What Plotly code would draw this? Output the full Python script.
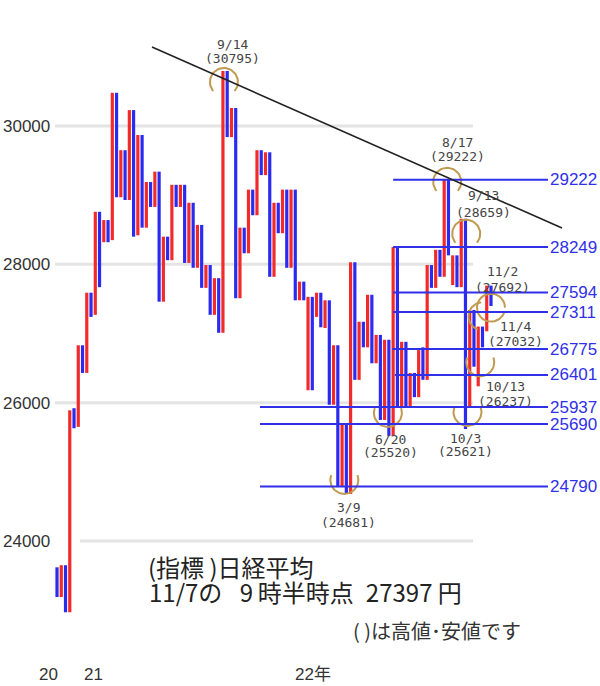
import plotly.graph_objects as go
import math

# ---------------- data ----------------
# each bar: top price, bottom price, direction (U = up/red, D = down/blue)
bar_top = [
    23620, 23650, 23650, 25890, 25920, 26830, 26830, 27590, 27590, 28760,
    28760, 28640, 28640, 30480, 30480, 29650, 29650, 30230, 30230, 29870,
    29870, 29190, 29190, 29340, 29340, 28400, 28400, 29150, 29150, 29150,
    29150, 28890, 28890, 28570, 28570, 27990, 27990, 27800, 27800, 30795,
    30795, 30260, 30260, 28530, 28530, 29080, 29080, 29650, 29650, 29620,
    29620, 28890, 28890, 29080, 29080, 29080, 29080, 27750, 27750, 27530,
    27530, 27590, 27590, 27480, 27480, 26830, 26830, 25680, 25680, 28030,
    28030, 27170, 27170, 27560, 27560, 26980, 26980, 26910, 26910, 28250,
    28250, 26880, 26880, 26430, 26430, 26760, 26800, 27990, 27990, 28210,
    28210, 29222, 29222, 28130, 28130, 28659, 28659, 27340, 27340, 27100,
    27100, 27692, 27692,
]
bar_bottom = [
    23190, 23190, 22970, 22970, 25630, 25650, 26430, 26430, 27240, 27270,
    27670, 28320, 28320, 28350, 28970, 28970, 28930, 28930, 28400, 28420,
    28530, 28530, 28830, 28830, 27460, 27460, 28060, 28060, 28830, 28830,
    28020, 28020, 27950, 27950, 27660, 27660, 27270, 27270, 27010, 27010,
    29840, 29840, 27510, 27510, 28160, 28160, 28710, 28710, 29290, 29290,
    27820, 27820, 28450, 28450, 27950, 27950, 27480, 27480, 27480, 26180,
    26180, 27240, 27090, 27080, 25970, 25970, 24780, 24780, 24681, 24681,
    26330, 26330, 26800, 26800, 26570, 26570, 25750, 25750, 25520, 25520,
    25940, 25940, 25940, 25940, 26080, 26080, 26330, 26330, 27660, 27660,
    27820, 27820, 28130, 27700, 27670, 27670, 25621, 25940, 26520, 26237,
    26800, 27032, 27397,
]
bar_dir = list(
    "DUDUDUDUDU" "DUDUDUDUDU" "DUDUDUDUDU" "DUDUDUDUDU" "DUDUDUDUDU"
    "DUDUDUDUDU" "DUDUDUDUDU" "DUDUDUDUDU" "DUDUDUDUDU" "DUDUDUDUDU" "DUD"
)

# horizontal support / resistance levels and the bar index they start at
level_values = [29222, 28249, 27594, 27311, 26775, 26401, 25937, 25690, 24790]
level_start = [79.0, 79.0, 79.0, 79.0, 78.8, 79.4, 47.7, 47.7, 47.7]

# marked highs / lows: date, price, bar index, kind
ext_dates = ["9/14", "8/17", "9/13", "11/2", "11/4", "10/13", "10/3", "6/20", "3/9"]
ext_values = [30795, 29222, 28659, 27692, 27032, 26237, 25621, 25520, 24681]
ext_index = [39, 91, 95, 102, 100, 99, 96, 78, 68]
ext_kind = ["high", "high", "high", "circle", "left", "low", "low", "low", "low"]

y_ticks = [24000, 26000, 28000, 30000]
y_tick_text = ["24000", "26000", "28000", "30000"]
x_label_pos = [-2.1, 8.5, 60.2]
x_label_text = ["20", "21", "22年"]

# ---------------- geometry helpers ----------------
W, H, MB = 600, 686, 24
PH = H - MB
PX_PER_X = 4.2549
X0 = -57 / PX_PER_X
X1 = X0 + W / PX_PER_X
V_TOP, V_BOT = 31821.6, 22251.0
PX_PER_V = PH / (V_TOP - V_BOT)


def px_x(p):
    return p / PX_PER_X + X0


def py_v(p):
    return V_TOP - p / PX_PER_V


def x_px(x):
    return (x - X0) * PX_PER_X


def v_py(v):
    return (V_TOP - v) * PX_PER_V


RED = "#f22a2a"
BLUE = "#2a2af0"
LEVEL_BLUE = "#3030e8"
ARC = "#c09a50"

fig = go.Figure()

# gridlines (light)
for v in y_ticks:
    fig.add_shape(type="line", xref="x", yref="y",
                  x0=px_x(80 if v == 24000 else 55), x1=px_x(473), y0=v, y1=v,
                  line=dict(color="#e4e4e4", width=3), layer="below")

# bars
idx = list(range(len(bar_top)))
fig.add_trace(go.Bar(
    x=idx,
    y=[t - b for t, b in zip(bar_top, bar_bottom)],
    base=bar_bottom,
    width=0.75,
    marker=dict(color=[RED if d == "U" else BLUE for d in bar_dir], line=dict(width=0)),
    hoverinfo="skip",
))

# level lines + labels
for v, s in zip(level_values, level_start):
    fig.add_shape(type="line", xref="x", yref="y", x0=s, x1=px_x(548), y0=v, y1=v,
                  line=dict(color=LEVEL_BLUE, width=2))
    fig.add_annotation(x=px_x(548), y=v, xref="x", yref="y", text=str(v),
                       showarrow=False, xanchor="left", yanchor="middle",
                       font=dict(family="Liberation Sans, Arial", size=17, color=LEVEL_BLUE))

# trend line
fig.add_shape(type="line", xref="x", yref="y",
              x0=px_x(152), y0=py_v(47), x1=px_x(562), y1=py_v(228),
              line=dict(color="#222222", width=1.6))

# arcs around marked highs / lows: (pixel offset dx, dy, start angle, end angle)
arc_style = {
    "9/14": (1, 11, -40, 220),
    "8/17": (3, 2, -40, 220),
    "9/13": (5, 15, -40, 220),
    "11/2": (0, 22, 0, 345),
    "11/4": (0, -15, 95, 250),
    "10/13": (2, -24, 160, 380),
    "10/3": (2, -17, 160, 380),
    "6/20": (-1, -23, 160, 380),
    "3/9": (-2, -14, 160, 380),
}
for d, v, i in zip(ext_dates, ext_values, ext_index):
    dx, dy, a0, a1 = arc_style[d]
    cx = x_px(i) + dx
    cy = v_py(v) + dy
    xs, ys = [], []
    n = 40
    for j in range(n + 1):
        a = math.radians(a0 + (a1 - a0) * j / n)
        xs.append(px_x(cx + 14 * math.cos(a)))
        ys.append(py_v(cy - 14 * math.sin(a)))
    fig.add_trace(go.Scatter(x=xs, y=ys, mode="lines",
                             line=dict(color=ARC, width=2), hoverinfo="skip"))

# date / price labels (pixel centres of the two lines)
label_pos = {
    "9/14": (232, 44, 59),
    "8/17": (457, 142, 157),
    "9/13": (483, 196, 212),
    "11/2": (502, 271, 287),
    "11/4": (515, 326, 341),
    "10/13": (505, 386, 401),
    "10/3": (465, 438, 451),
    "6/20": (391, 439, 452),
    "3/9": (348, 507, 522),
}
for d, v in zip(ext_dates, ext_values):
    cx, y1, y2 = label_pos[d]
    for txt, yy in ((d, y1), (f"({v})", y2)):
        fig.add_annotation(x=cx / W, y=1 - yy / PH, xref="paper", yref="paper",
                           text=txt, showarrow=False, xanchor="center", yanchor="middle",
                           font=dict(family="DejaVu Sans Mono", size=13, color="#444"))

# year labels under the bars
for xp, t in zip(x_label_pos, x_label_text):
    fig.add_annotation(x=xp, y=1 - 675 / PH, xref="x", yref="paper", text=t,
                       showarrow=False, xanchor="center", yanchor="middle",
                       font=dict(family="Liberation Sans, Noto Sans CJK JP", size=17,
                                 color="#333"))

# captions
cap_font = "Noto Sans CJK JP"
fig.add_annotation(x=146 / W, y=1 - 566 / PH, xref="paper", yref="paper",
                   text="(指標 )日経平均", showarrow=False, xanchor="left", yanchor="middle",
                   font=dict(family=cap_font, size=24, color="#222"))
fig.add_annotation(x=147 / W, y=1 - 591 / PH, xref="paper", yref="paper",
                   text="11/7の\u2002 9\u2009時半時点\u200227397 円", showarrow=False,
                   xanchor="left", yanchor="middle",
                   font=dict(family=cap_font, size=24, color="#222"))
fig.add_annotation(x=351 / W, y=1 - 630 / PH, xref="paper", yref="paper",
                   text="( )は高値･安値です", showarrow=False, xanchor="left",
                   yanchor="middle", font=dict(family=cap_font, size=20, color="#333"))

fig.update_layout(
    width=W, height=H,
    margin=dict(l=0, r=0, t=0, b=MB),
    paper_bgcolor="white", plot_bgcolor="white",
    showlegend=False,
    barmode="overlay",
    xaxis=dict(range=[X0, X1], showgrid=False, zeroline=False, showline=False,
               showticklabels=False, ticks=""),
    yaxis=dict(range=[V_BOT, V_TOP], showgrid=False, zeroline=False, showline=False,
               tickmode="array", tickvals=y_ticks, ticktext=y_tick_text, ticks="",
               ticklabelposition="inside",
               tickfont=dict(family="Liberation Sans, Arial", size=17, color="#333")),
)

fig.write_html("out.html", config={"displayModeBar": False},
               post_script="document.body.style.margin='0';document.body.style.overflow='hidden';")
